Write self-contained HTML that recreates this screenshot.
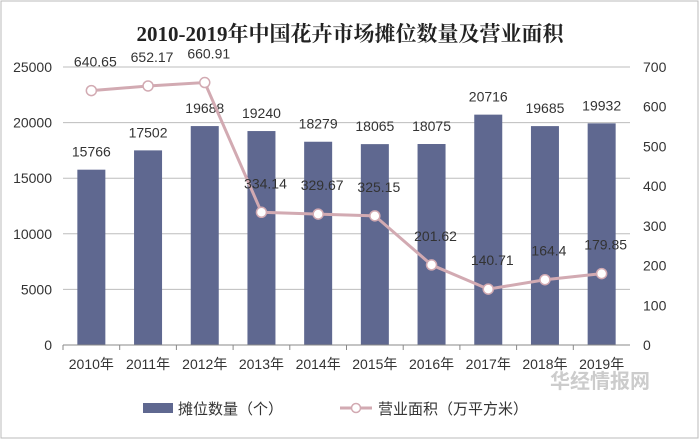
<!DOCTYPE html>
<html><head><meta charset="utf-8"><style>
body{margin:0;background:#fff;}
svg{display:block;font-family:"Liberation Sans","Noto Sans CJK SC",sans-serif;}
</style></head><body>
<svg width="700" height="441">
<rect x="1" y="1" width="697" height="437" fill="#fff" stroke="#bbb"/>
<text x="350" y="41" text-anchor="middle" font-size="21" font-weight="bold" font-family="'Liberation Serif','Noto Serif CJK SC',serif" fill="#222">2010-2019年中国花卉市场摊位数量及营业面积</text>
<g id="grid"></g><g id="bars"></g><g id="line"></g><g id="axes"></g>
<g>
<rect x="143" y="403" width="30" height="10" fill="#5f6890"/>
<text x="178" y="414" font-size="15" fill="#333">摊位数量（个）</text>
<line x1="340" y1="408" x2="372" y2="408" stroke="#d2aab2" stroke-width="3"/>
<circle cx="356" cy="408" r="4.5" fill="#fff" stroke="#d2aab2" stroke-width="1.5"/>
<text x="378" y="414" font-size="15" fill="#333">营业面积（万平方米）</text>
</g>
<text x="550" y="388" font-size="20" font-weight="bold" fill="#ccc">华经情报网</text>
</svg>
<script>
const categories=["2010年","2011年","2012年","2013年","2014年","2015年","2016年","2017年","2018年","2019年"];
const stalls=[15766,17502,19688,19240,18279,18065,18075,20716,19685,19932];
const area=[640.65,652.17,660.91,334.14,329.67,325.15,201.62,140.71,164.4,179.85];
const areaLabels=["640.65","652.17","660.91","334.14","329.67","325.15","201.62","140.71","164.4","179.85"];
const leftTicks=[0,5000,10000,15000,20000,25000];
const rightTicks=[0,100,200,300,400,500,600,700];
const NS="http://www.w3.org/2000/svg";
const x0=63,x1=630,y0=345,yTop=67;
const bw=(x1-x0)/categories.length;
const yL=v=>y0-(v/25000)*(y0-yTop);
const yR=v=>y0-(v/700)*(y0-yTop);
const xc=i=>x0+bw*(i+0.5);
function mk(tag,attrs,parent,text){const e=document.createElementNS(NS,tag);for(const k in attrs)e.setAttribute(k,attrs[k]);if(text!==undefined)e.textContent=text;document.getElementById(parent).appendChild(e);return e;}
leftTicks.forEach(t=>{
 if(t>0){const g=mk('line',{x1:x0,x2:x1,y1:yL(t),y2:yL(t),stroke:'#bdbdbd','stroke-width':1},'grid');
 
 }
 const l=mk('text',{x:52,y:yL(t)+5,'text-anchor':'end','font-size':14,fill:'#333'},'axes',String(t));
 
 
});
rightTicks.forEach(t=>{
 const l=mk('text',{x:643,y:yR(t)+5,'font-size':14,fill:'#333'},'axes',String(t));
 
 
});
const ax=mk('line',{x1:x0,x2:x1,y1:y0,y2:y0,stroke:'#888'},'axes');


categories.forEach((c,i)=>{
 const tk=mk('line',{x1:x0+bw*i,x2:x0+bw*i,y1:y0,y2:y0+5,stroke:'#888'},'axes');
 
 
 const l=mk('text',{x:xc(i),y:369,'text-anchor':'middle','font-size':14,fill:'#333'},'axes',c);
 
 
 const b=mk('rect',{x:xc(i)-14,y:yL(stalls[i]),width:28,height:y0-yL(stalls[i]),fill:'#5f6890'},'bars');
 
 
 const bl=mk('text',{x:xc(i),y:yL(stalls[i])-13,'text-anchor':'middle','font-size':14,fill:'#333'},'bars',String(stalls[i]));
 
 
});
const pts=area.map((v,i)=>xc(i)+','+yR(v)).join(' ');
const pl=mk('polyline',{points:pts,fill:'none',stroke:'#d2aab2','stroke-width':3},'line');


area.forEach((v,i)=>{
 const c=mk('circle',{cx:xc(i),cy:yR(v),r:5,fill:'#fff',stroke:'#d2aab2','stroke-width':1.5},'line');
 
 
 const l=mk('text',{x:xc(i)+4,y:yR(v)-24,'text-anchor':'middle','font-size':14,fill:'#333'},'line',areaLabels[i]);
 
 
});
</script>
</body></html>
